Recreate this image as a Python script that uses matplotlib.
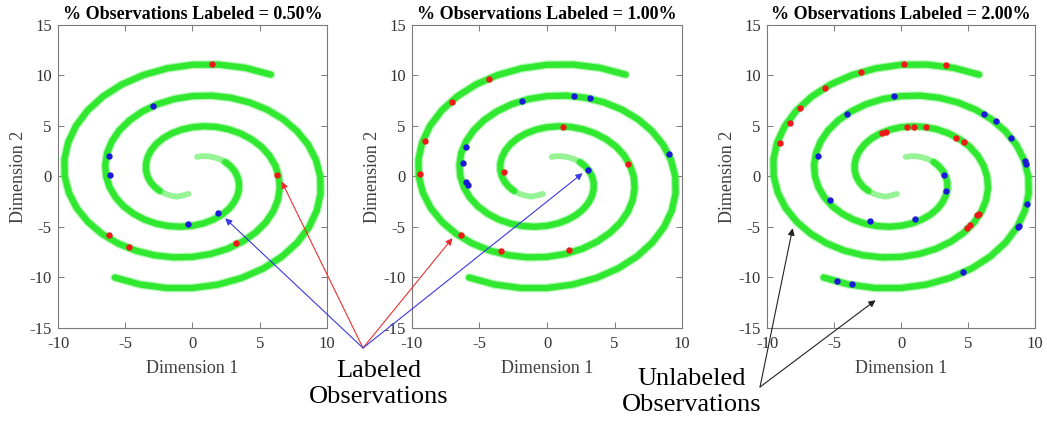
import matplotlib
matplotlib.use('Agg')
import matplotlib.pyplot as plt
import numpy as np

plt.rcParams['font.family'] = ['Liberation Serif', 'DejaVu Serif']
plt.rcParams['axes.unicode_minus'] = False

# spiral arms: polar angle (deg) and radius, every 10 deg
arm_a_deg = [80, 70, 60, 50, 40, 30, 20, 10, 0, -10, -20, -30, -40, -50,
             -60, -70, -80, -90, -100, -110, -120, -130, -140, -150, -160,
             -170, -180, -190, -200, -210, -220, -230, -240, -250, -260,
             -270, -280, -290, -300, -310, -320, -330, -340, -350, -360,
             -370, -380, -390, -400, -410, -420, -430, -440, -450, -460,
             -470, -480]
arm_a_r = [1.97, 2.14, 2.31, 2.48, 2.66, 2.83, 3.00, 3.17, 3.34, 3.51, 3.68,
           3.85, 4.02, 4.20, 4.37, 4.54, 4.71, 4.88, 5.05, 5.22, 5.39, 5.56,
           5.73, 5.91, 6.08, 6.25, 6.42, 6.59, 6.76, 6.93, 7.10, 7.27, 7.44,
           7.62, 7.79, 7.96, 8.13, 8.30, 8.47, 8.64, 8.81, 8.98, 9.16, 9.33,
           9.50, 9.67, 9.84, 10.01, 10.18, 10.35, 10.52, 10.69, 10.87,
           11.04, 11.21, 11.38, 11.55]
arm_b_deg = [-100, -110, -120, -130, -140, -150, -160, -170, -180, -190,
             -200, -210, -220, -230, -240, -250, -260, -270, -280, -290,
             -300, -310, -320, -330, -340, -350, -360, -370, -380, -390,
             -400, -410, -420, -430, -440, -450, -460, -470, -480, -490,
             -500, -510, -520, -530, -540, -550, -560, -570, -580, -590,
             -600, -610, -620, -630, -640, -650, -660]
arm_b_r = [1.75, 1.98, 2.31, 2.48, 2.66, 2.83, 3.00, 3.17, 3.34, 3.51, 3.68,
           3.85, 4.02, 4.20, 4.37, 4.54, 4.71, 4.88, 5.05, 5.22, 5.39, 5.56,
           5.73, 5.91, 6.08, 6.25, 6.42, 6.59, 6.76, 6.93, 7.10, 7.27, 7.44,
           7.62, 7.79, 7.96, 8.13, 8.30, 8.47, 8.64, 8.81, 8.98, 9.16, 9.33,
           9.50, 9.67, 9.84, 10.01, 10.18, 10.35, 10.52, 10.69, 10.87,
           11.06, 11.25, 11.45, 11.65]

titles = ['% Observations Labeled = 0.50%',
          '% Observations Labeled = 1.00%',
          '% Observations Labeled = 2.00%']

# labeled observations, panel 1 (0.50%)
red_x_1 = [1.44, 6.26, -6.24, -4.70, 3.24]
red_y_1 = [11.09, 0.17, -5.79, -6.95, -6.62]
blue_x_1 = [-2.95, -6.19, -6.11, 1.93, -0.30]
blue_y_1 = [6.95, 1.99, 0.10, -3.64, -4.74]

# panel 2 (1.00%)
red_x_2 = [-4.32, -7.04, -9.01, -9.38, -3.16, 1.16, 6.00, -6.35, -3.38, 1.60]
red_y_2 = [9.67, 7.42, 3.54, 0.23, 0.46, 4.90, 1.23, -5.76, -7.42, -7.32]
blue_x_2 = [-1.85, 2.02, 3.16, -6.00, -6.22, -6.00, -5.85, 3.04, 9.01]
blue_y_2 = [7.45, 8.01, 7.75, 2.91, 1.32, -0.53, -0.89, 0.63, 2.19]

# panel 3 (2.00%)
red_x_3 = [0.20, 3.37, -3.02, -5.64, -7.52, -8.32, -9.06, -1.39, -1.14, 0.45,
           0.99, 1.83, 4.11, 4.68, 5.84, 5.64, 5.15, 4.95]
red_y_3 = [11.16, 10.99, 10.33, 8.81, 6.75, 5.30, 3.28, 4.30, 4.44, 4.87,
           4.87, 4.87, 3.84, 3.41, -3.71, -3.84, -4.77, -5.10]
blue_x_3 = [-0.54, -4.06, -6.19, -5.30, -2.33, 1.04, 3.22, 3.32, 6.19, 7.05,
            8.24, 9.23, 9.31, 9.41, 8.81, 8.70, 4.60, -4.75, -3.66]
blue_y_3 = [7.95, 6.16, 2.05, -2.32, -4.44, -4.21, 0.13, -1.39, 6.19, 5.53,
            3.81, 1.49, 1.23, -2.72, -4.87, -5.00, -9.47, -10.36, -10.63]

# arrow targets (data coords of the panel they point into)
labeled_red_1 = (6.63, -0.5)
labeled_blue_1 = (2.43, -4.14)
labeled_red_2 = (-7.0, -6.1)
labeled_blue_2 = (2.64, 0.33)
unlabeled_1 = (-8.09, -5.13)
unlabeled_2 = (-1.9, -12.25)

GREEN = '#2fe82f'
RED = '#ee1a1a'
BLUE = '#1a1ad8'
SPINE = '#7a7a7a'

fig = plt.figure(figsize=(10.47, 4.23), dpi=100)
lefts = [0.0554, 0.3935, 0.7326]
widths = [0.2569, 0.2579, 0.256]
points = [(red_x_1, red_y_1, blue_x_1, blue_y_1),
          (red_x_2, red_y_2, blue_x_2, blue_y_2),
          (red_x_3, red_y_3, blue_x_3, blue_y_3)]


def arm_xy(deg, r):
    t = np.deg2rad(np.asarray(deg, dtype=float))
    r = np.asarray(r, dtype=float)
    return r * np.cos(t), r * np.sin(t)


axes = []
for i in range(3):
    ax = fig.add_axes([lefts[i], 0.2246, widths[i], 0.7163])
    axes.append(ax)
    for deg, r in [(arm_a_deg, arm_a_r), (arm_b_deg, arm_b_r)]:
        x, y = arm_xy(deg, r)
        # faint inner tail, then the main band with a soft halo
        ax.plot(x[:6], y[:6], color=GREEN, lw=4.2, alpha=0.5,
                solid_capstyle='round', solid_joinstyle='round', zorder=2)
        ax.plot(x[5:], y[5:], color=GREEN, lw=6.3, alpha=0.35,
                solid_capstyle='round', solid_joinstyle='round', zorder=2)
        ax.plot(x[5:], y[5:], color=GREEN, lw=4.5,
                solid_capstyle='round', solid_joinstyle='round', zorder=3)
    rx, ry, bx, by = points[i]
    ax.plot(rx, ry, 'o', color=RED, ms=4.6, mec='none', zorder=4)
    ax.plot(bx, by, 'o', color=BLUE, ms=4.6, mec='none', zorder=4)

    ax.set_xlim(-10, 10)
    ax.set_ylim(-15, 15)
    ax.set_xticks([-10, -5, 0, 5, 10])
    ax.set_yticks([-15, -10, -5, 0, 5, 10, 15])
    ax.tick_params(direction='in', top=True, right=True, length=4,
                   width=0.7, color=SPINE, labelsize=12,
                   labelcolor='#333333')
    ax.tick_params(axis='x', pad=6)
    ax.tick_params(axis='y', pad=4.5)
    for s in ax.spines.values():
        s.set_color(SPINE)
        s.set_linewidth(0.8)
    ax.set_title(titles[i], fontsize=13, fontweight='bold', pad=4)
    ax.set_xlabel('Dimension 1', fontsize=13, color='#404040')
    ax.set_ylabel('Dimension 2', fontsize=13, color='#404040')
    ax.xaxis.set_label_coords(0.5, -0.105)
    ax.yaxis.set_label_coords(-0.115, 0.5)

apex_l = (0.3467, 0.1773)
apex_u = (0.7259, 0.0851)


def arrow(ax, target, apex, color):
    ax.annotate('', xy=target, xycoords='data', xytext=apex,
                textcoords='figure fraction', annotation_clip=False,
                arrowprops=dict(arrowstyle='-|>', color=color, lw=0.8,
                                mutation_scale=10, shrinkA=0, shrinkB=0),
                zorder=6)


arrow(axes[0], labeled_red_1, apex_l, '#e83030')
arrow(axes[0], labeled_blue_1, apex_l, '#3a3ae0')
arrow(axes[1], labeled_red_2, apex_l, '#e83030')
arrow(axes[1], labeled_blue_2, apex_l, '#3a3ae0')
arrow(axes[2], unlabeled_1, apex_u, '#222222')
arrow(axes[2], unlabeled_2, apex_u, '#222222')

fig.text(0.362, 0.092, 'Labeled\nObservations', ha='center', va='center',
         multialignment='center', fontsize=19)
fig.text(0.661, 0.073, 'Unlabeled\nObservations', ha='center', va='center',
         multialignment='center', fontsize=19)

fig.savefig('out.png', dpi=100)
